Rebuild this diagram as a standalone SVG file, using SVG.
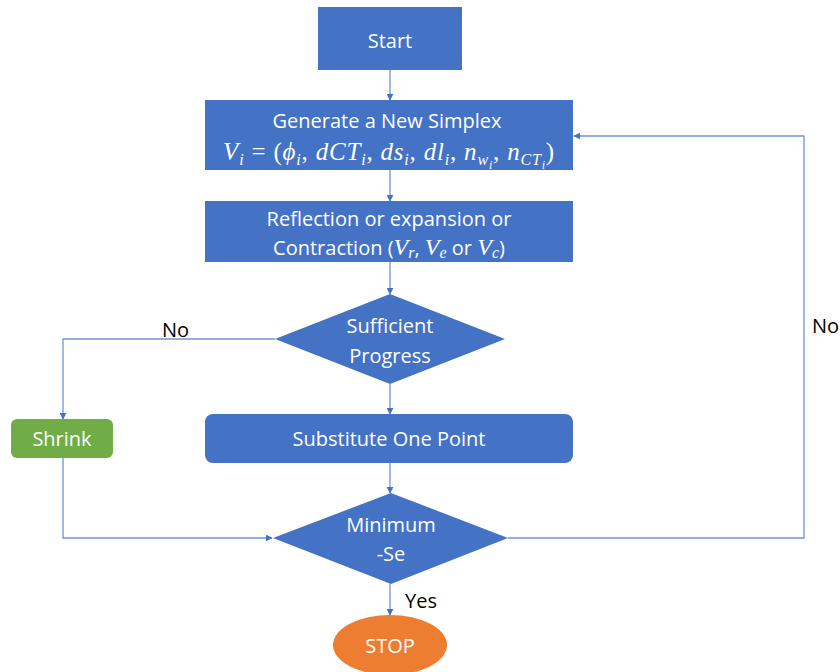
<svg xmlns="http://www.w3.org/2000/svg" width="840" height="672" viewBox="0 0 840 672">
<defs>
<marker id="arr" viewBox="0 0 10 10" refX="9" refY="5" markerWidth="7" markerHeight="7" markerUnits="userSpaceOnUse" orient="auto">
<path d="M0,0 L10,5 L0,10 z" fill="#4472C4"/>
</marker>
<style>
.blue{fill:#4472C4}
.t{font-family:"Open Sans","Liberation Sans",sans-serif;font-size:20px;fill:#ffffff;text-anchor:middle;dominant-baseline:central}
.m{font-family:"Liberation Serif","DejaVu Serif",serif;font-size:25px;fill:#ffffff;text-anchor:middle;letter-spacing:0.8px}
.mi{font-style:italic}
.lbl{font-family:"Open Sans","Liberation Sans",sans-serif;font-size:20px;fill:#000000;dominant-baseline:central}
.c{fill:none;stroke:#6F95D6;stroke-width:1.3}
</style>
</defs>
<rect width="840" height="672" fill="#ffffff"/>
<g id="connectors">
<path class="c" d="M390,70 V100" marker-end="url(#arr)"/>
<path class="c" d="M390,170 V201" marker-end="url(#arr)"/>
<path class="c" d="M390,262 V294" marker-end="url(#arr)"/>
<path class="c" d="M390,384 V414" marker-end="url(#arr)"/>
<path class="c" d="M390,463 V493" marker-end="url(#arr)"/>
<path class="c" d="M390,584 V615" marker-end="url(#arr)"/>
<path class="c" d="M275,339 H63 V419" marker-end="url(#arr)"/>
<path class="c" d="M63,458 V538 H272" marker-end="url(#arr)"/>
<path class="c" d="M508,538 H804 V136 H574" marker-end="url(#arr)"/>
<text class="lbl" x="162" y="329">No</text>
<text class="lbl" x="812" y="325">No</text>
<text class="lbl" x="405" y="600">Yes</text>
</g>
<g id="start">
<rect class="blue" x="318" y="7" width="144" height="63"/>
<text class="t" x="390" y="40">Start</text>
</g>
<g id="generate">
<rect class="blue" x="205" y="100" width="368" height="70"/>
<text class="t" x="387" y="120">Generate a New Simplex</text>
<text class="m" x="389" y="160"><tspan class="mi">V</tspan><tspan class="mi" font-size="16" dy="5">i</tspan><tspan dy="-5"> = (</tspan><tspan class="mi">ϕ</tspan><tspan class="mi" font-size="16" dy="5">i</tspan><tspan dy="-5">, </tspan><tspan class="mi">dCT</tspan><tspan class="mi" font-size="16" dy="5">i</tspan><tspan dy="-5">, </tspan><tspan class="mi">ds</tspan><tspan class="mi" font-size="16" dy="5">i</tspan><tspan dy="-5">, </tspan><tspan class="mi">dl</tspan><tspan class="mi" font-size="16" dy="5">i</tspan><tspan dy="-5">, </tspan><tspan class="mi">n</tspan><tspan class="mi" font-size="16" dy="5">w</tspan><tspan class="mi" font-size="12" dy="4">i</tspan><tspan dy="-9">, </tspan><tspan class="mi">n</tspan><tspan class="mi" font-size="16" dy="5">CT</tspan><tspan class="mi" font-size="12" dy="4">i</tspan><tspan dy="-9">)</tspan></text>
</g>
<g id="reflection">
<rect class="blue" x="205" y="201" width="368" height="61"/>
<text class="t" x="389" y="218">Reflection or expansion or</text>
<text class="t" x="389" y="247">Contraction (<tspan class="mi" font-family="Liberation Serif, serif" font-size="24">V</tspan><tspan class="mi" font-family="Liberation Serif, serif" font-size="16" dy="5">r</tspan><tspan dy="-5">, </tspan><tspan class="mi" font-family="Liberation Serif, serif" font-size="24">V</tspan><tspan class="mi" font-family="Liberation Serif, serif" font-size="16" dy="5">e</tspan><tspan dy="-5"> or </tspan><tspan class="mi" font-family="Liberation Serif, serif" font-size="24">V</tspan><tspan class="mi" font-family="Liberation Serif, serif" font-size="16" dy="5">c</tspan><tspan dy="-5">)</tspan></text>
</g>
<g id="sufficient">
<polygon class="blue" points="390,294 505,339 390,384 275,339"/>
<text class="t" x="390" y="325">Sufficient</text>
<text class="t" x="390" y="355">Progress</text>
</g>
<g id="shrink">
<rect x="11" y="419" width="102" height="39" rx="6" fill="#70AD47"/>
<text class="t" x="62" y="438">Shrink</text>
</g>
<g id="substitute">
<rect class="blue" x="205" y="414" width="368" height="49" rx="8"/>
<text class="t" x="389" y="438">Substitute One Point</text>
</g>
<g id="minimum">
<polygon class="blue" points="391,493 508,538 391,584 273,538"/>
<text class="t" x="391" y="524">Minimum</text>
<text class="t" x="391" y="553">-Se</text>
</g>
<g id="stop">
<ellipse cx="390" cy="645" rx="57" ry="30" fill="#ED7D31"/>
<text class="t" x="390" y="645">STOP</text>
</g>
</svg>
